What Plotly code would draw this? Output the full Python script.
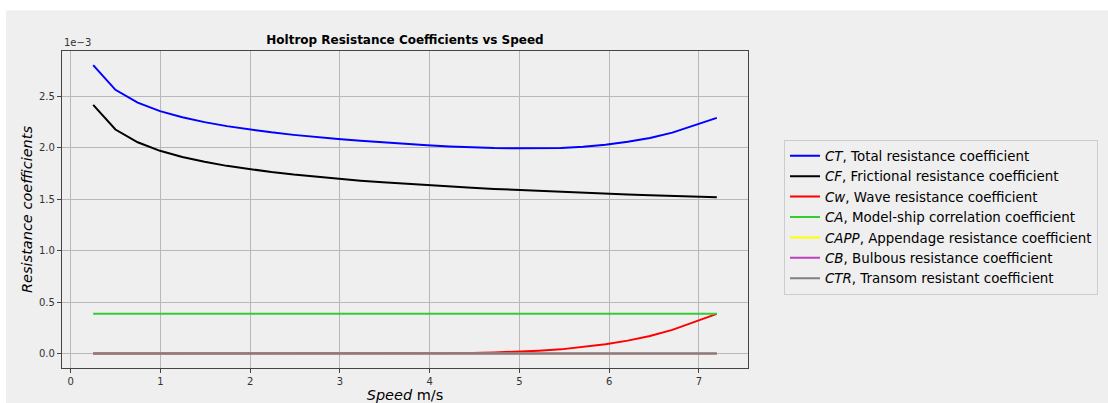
import plotly.graph_objects as go

# ---- data (coefficients in units of 1e-3) ----
speed = [0.250, 0.498, 0.746, 0.995, 1.243, 1.491, 1.739, 1.988, 2.236, 2.484,
         2.732, 2.980, 3.229, 3.477, 3.725, 3.973, 4.221, 4.470, 4.718, 4.966,
         5.214, 5.462, 5.711, 5.959, 6.207, 6.455, 6.704, 6.952, 7.200]

ct = [2.803, 2.563, 2.439, 2.356, 2.296, 2.249, 2.210, 2.177, 2.150, 2.125,
      2.103, 2.084, 2.067, 2.051, 2.036, 2.024, 2.013, 2.003, 1.997, 1.994,
      1.994, 1.998, 2.010, 2.030, 2.058, 2.095, 2.147, 2.215, 2.290]

cf = [2.417, 2.177, 2.053, 1.970, 1.910, 1.863, 1.824, 1.791, 1.764, 1.739,
      1.717, 1.698, 1.680, 1.664, 1.649, 1.636, 1.623, 1.611, 1.600, 1.590,
      1.580, 1.571, 1.562, 1.554, 1.546, 1.538, 1.531, 1.524, 1.518]

cw = [0.000, 0.000, 0.000, 0.000, 0.000, 0.000, 0.000, 0.000, 0.000, 0.000,
      0.000, 0.000, 0.001, 0.001, 0.001, 0.002, 0.004, 0.006, 0.011, 0.018,
      0.028, 0.041, 0.062, 0.090, 0.126, 0.171, 0.230, 0.305, 0.386]

ca = [0.386] * 29
capp = [0.0] * 29
cb = [0.0] * 29
ctr = [0.0] * 29

series = [
    ("<i>CT</i>, Total resistance coefficient", ct, "#0000ff"),
    ("<i>CF</i>, Frictional resistance coefficient", cf, "#000000"),
    ("<i>Cw</i>, Wave resistance coefficient", cw, "#ff0000"),
    ("<i>CA</i>, Model-ship correlation coefficient", ca, "#33cc33"),
    ("<i>CAPP</i>, Appendage resistance coefficient", capp, "#ffff00"),
    ("<i>CB</i>, Bulbous resistance coefficient", cb, "#c040c0"),
    ("<i>CTR</i>, Transom resistant coefficient", ctr, "#808080"),
]

xticks = [0, 1, 2, 3, 4, 5, 6, 7]
yticks = [0.0, 0.5, 1.0, 1.5, 2.0, 2.5]
ytick_text = ["0.0", "0.5", "1.0", "1.5", "2.0", "2.5"]

BG = "#efefef"
FONT = "DejaVu Sans"

fig = go.Figure()
for name, vals, col in series:
    fig.add_trace(go.Scatter(x=speed, y=vals, mode="lines", name=name,
                             line=dict(color=col, width=2)))

axis_common = dict(
    showgrid=True, gridcolor="#b8b8b8", gridwidth=1,
    zeroline=False, showline=True, linecolor="#444444", linewidth=1.3,
    mirror=True, ticks="outside", ticklen=4, tickcolor="#444444",
    tickfont=dict(family=FONT, size=10, color="#333333"),
)

fig.update_layout(
    width=1108, height=403,
    margin=dict(l=62, r=360, t=51, b=35, autoexpand=False),
    paper_bgcolor=BG, plot_bgcolor=BG,
    font=dict(family=FONT, color="#000000"),
    title=dict(text="<b>Holtrop Resistance Coefficients vs Speed</b>",
               font=dict(family=FONT, size=12, color="#000000"),
               x=(62 + 343) / 1108, xanchor="center",
               y=1 - 40 / 403, yanchor="middle"),
    xaxis=dict(range=[-0.0975, 7.5475], tickvals=xticks,
               ticktext=[str(v) for v in xticks],
               title=dict(text="<i>Speed</i> m/s", standoff=8,
                          font=dict(family=FONT, size=14.5, color="#000000")),
               automargin=False, **axis_common),
    yaxis=dict(range=[-0.14, 2.94], tickvals=yticks, ticktext=ytick_text,
               title=dict(text="<i>Resistance coefficients</i>", standoff=2,
                          font=dict(family=FONT, size=14.5, color="#000000")),
               automargin=False, **axis_common),
    showlegend=True,
    legend=dict(xref="container", yref="container",
                x=784 / 1108, y=1 - 217 / 403, xanchor="left", yanchor="middle",
                bgcolor=BG, bordercolor="#cccccc", borderwidth=1,
                font=dict(family=FONT, size=13.4, color="#000000"),
                tracegroupgap=0, itemwidth=30),
    shapes=[
        dict(type="rect", xref="paper", yref="paper",
             x0=-1, x1=2, y0=(368 - 10) / 317.3, y1=(368 + 5) / 317.3 + 0.2,
             fillcolor="#ffffff", line=dict(width=0), layer="below"),
        dict(type="rect", xref="paper", yref="paper",
             x0=-1, x1=(6 - 62) / 686, y0=-1, y1=2,
             fillcolor="#ffffff", line=dict(width=0), layer="below"),
    ],
    annotations=[
        dict(text="1e\u22123", xref="paper", yref="paper", x=0, y=1,
             xanchor="left", yanchor="bottom", yshift=1, showarrow=False,
             font=dict(family=FONT, size=10, color="#333333")),
    ],
)

fig.write_html("out.html")
